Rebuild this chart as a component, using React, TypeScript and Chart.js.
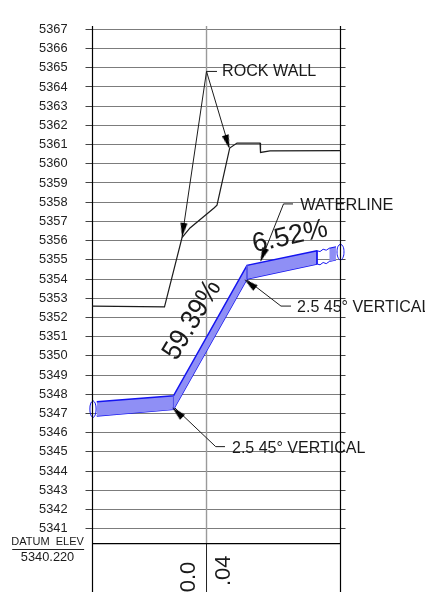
import React, { useEffect, useRef } from "react";
import { Chart, registerables } from "chart.js";

Chart.register(...registerables);

const elevationTicks = [5341,5342,5343,5344,5345,5346,5347,5348,5349,5350,5351,5352,5353,5354,5355,5356,5357,5358,5359,5360,5361,5362,5363,5364,5365,5366,5367];
const datumElevation = 5340.22;
const datumLabel = "5340.220";
const stationLeft = 0;
const stationMid = 18.39;
const stationRight = 40;
const elevFrameTop = 5367.18;
const elevTop = 5368.53;
const elevBottom = 5337.7;

const rockProfile = [[0,5352.59],[11.61,5352.55],[14.44,5356.16],[15.73,5356.66],[19.6,5357.7],[20.08,5357.85],[22.13,5360.82],[23.31,5361.08],[27.02,5361.08],[27.1,5360.59],[28.63,5360.67],[40,5360.69]];
const waterTop = [[0.68,5347.61],[13.06,5347.92],[24.92,5354.71],[36.21,5355.47]];
const waterBottom = [[0.68,5346.86],[13.06,5347.21],[24.92,5354.0],[36.21,5354.78]];
const pipeStubTop = [[38.19,5355.6],[39.27,5355.68]];
const pipeStubBottom = [[38.19,5354.91],[39.27,5354.99]];
const breakTop = [[36.21,5355.47],[36.7,5355.43],[37.2,5355.55],[37.7,5355.5],[38.19,5355.6]];
const breakBottom = [[36.21,5354.78],[36.7,5354.74],[37.2,5354.86],[37.7,5354.8],[38.19,5354.91]];
const endCapLeft = [[0.08,5347.67],[0.43,5347.54],[0.58,5347.23],[0.43,5346.92],[0.08,5346.79],[-0.27,5346.92],[-0.42,5347.23],[-0.27,5347.54],[0.08,5347.67]];
const endCapRight = [[40,5355.83],[40.4,5355.7],[40.56,5355.41],[40.4,5355.12],[40,5354.99],[39.6,5355.12],[39.44,5355.41],[39.6,5355.7],[40,5355.83]];
const bendUpper = [[24.92,5354.71],[24.92,5354.0]];
const bendLower = [[13.06,5347.92],[13.06,5347.21]];
const breakEdgeLeft = [[36.21,5355.47],[36.21,5354.78]];
const leaderRockWall = [[20.08,5364.81],[18.39,5364.81],[14.44,5356.16]];
const leaderRockWall2 = [[18.39,5364.81],[22.02,5360.88]];
const leaderWaterline = [[32.34,5357.91],[30.81,5357.91],[27.18,5354.96]];
const leaderVerticalUpper = [[24.92,5353.95],[30.4,5352.59],[32.02,5352.59]];
const leaderVerticalLower = [[13.31,5347.28],[19.87,5345.27],[21.37,5345.27]];
const arrowTips = [[14.6,5356.55],[21.75,5361.14],[27.5,5355.25],[25.4,5353.75],[13.7,5347.05]];
const arrowAngles = [188,163,202,-52,-46];

const labelRock = "ROCK WALL";
const labelWater = "WATERLINE";
const labelVertical = "2.5 45° VERTICAL";
const labelSlopeUpper = "6.52%";
const labelSlopeLower = "59.39%";
const labelDatum = "DATUM  ELEV";
const labelStationA = "0.0";
const labelStationB = ".04";

const pts = (a: number[][]) => a.map(([x, y]) => ({ x, y }));
const FONT = '"Liberation Sans", Arial, sans-serif';
const BLUE = "#1414f0";
const FILL = "#8f8ff5";

function line(data: number[][], color: string, width: number, extra: any = {}) {
  return { data: pts(data), borderColor: color, borderWidth: width, pointRadius: 0, showLine: true, fill: false, clip: false, tension: 0, ...extra };
}

const textPlugin = {
  id: "cadText",
  afterDatasetsDraw(chart: any) {
    const { ctx, scales } = chart;
    const X = scales.x, Y = scales.y;
    const put = (text: string, sx: number, sy: number, size: number, rot = 0, align: CanvasTextAlign = "left", sxScale = 1) => {
      ctx.save();
      ctx.translate(X.getPixelForValue(sx), Y.getPixelForValue(sy));
      ctx.rotate((rot * Math.PI) / 180);
      ctx.scale(sxScale, 1);
      ctx.font = `${size}px ${FONT}`;
      ctx.fillStyle = "#1a1a1a";
      ctx.textAlign = align;
      ctx.textBaseline = "middle";
      ctx.fillText(text, 0, 0);
      ctx.restore();
    };
    put(labelRock, 20.9, 5364.8, 16.1);
    put(labelWater, 33.5, 5357.82, 16.3);
    put(labelVertical, 33, 5352.5, 16);
    put(labelVertical, 22.5, 5345.18, 16);
    put(labelSlopeUpper, 31.85, 5356.2, 27, -12.5, "center");
    put(labelSlopeLower, 16.1, 5351.86, 28, -59, "center", 0.92);
    put(labelStationA, 15.5, 5339.28, 22, -90, "right");
    put(labelStationB, 21.2, 5339.6, 22, -90, "right");
    put(labelDatum, -7.25, 5340.28, 11, 0, "center");
    put(datumLabel, -7.25, 5339.5, 12.8, 0, "center");
    ctx.save();
    ctx.strokeStyle = "#222";
    ctx.lineWidth = 1;
    ctx.beginPath();
    const uy = Math.round(Y.getPixelForValue(5339.95)) + 0.5;
    ctx.moveTo(X.getPixelForValue(-12.95), uy);
    ctx.lineTo(X.getPixelForValue(-1.35), uy);
    ctx.stroke();
    ctx.restore();
  },
};

export default function App() {
  const ref = useRef<HTMLCanvasElement>(null);
  useEffect(() => {
    const head = document.createElement("canvas");
    head.width = 7;
    head.height = 14;
    const h = head.getContext("2d")!;
    h.fillStyle = "#000";
    h.beginPath();
    h.moveTo(3.5, 0);
    h.lineTo(7, 14);
    h.lineTo(0, 14);
    h.closePath();
    h.fill();

    const ticks = elevationTicks.map((value) => ({ value }));
    const yBase: any = {
      type: "linear",
      min: elevBottom,
      max: elevTop,
      afterBuildTicks: (s: any) => { s.ticks = ticks.map((t) => ({ ...t })); },
      border: { display: false },
    };
    const fitTo = (width: number) => (s: any) => {
      s.width = width;
      s.paddingTop = 0;
      s.paddingBottom = 0;
    };
    const chart = new Chart(ref.current!, {
      type: "scatter",
      data: {
        datasets: [
          { data: pts(arrowTips), pointStyle: head, pointRadius: 6, rotation: arrowAngles, showLine: false, clip: false } as any,
          line(rockProfile, "#1c1c1c", 1.2),
          line(leaderRockWall, "#1c1c1c", 1),
          line(leaderRockWall2, "#1c1c1c", 1),
          line(leaderWaterline, "#1c1c1c", 1),
          line(leaderVerticalUpper, "#1c1c1c", 1),
          line(leaderVerticalLower, "#1c1c1c", 1),
          line([[stationLeft, elevBottom],[stationLeft, elevFrameTop]], "#000", 1.2),
          line([[stationRight, elevBottom],[stationRight, elevFrameTop]], "#000", 1.2),
          line([[stationLeft, datumElevation],[stationRight, datumElevation]], "#000", 1.4),
          line([[stationMid, elevBottom],[stationMid, datumElevation]], "#222", 1),
          line(endCapLeft, BLUE, 1, { tension: 0.4 }),
          line(endCapRight, BLUE, 1, { tension: 0.4 }),
          line(breakTop, BLUE, 1),
          line(breakBottom, BLUE, 1),
          line(breakEdgeLeft, BLUE, 1),
          line(bendUpper, "#5555e8", 1),
          line(bendLower, "#5555e8", 1),
          line(waterTop, BLUE, 1.5, { fill: "+1", backgroundColor: FILL }),
          line(waterBottom, BLUE, 1.5),
          line(pipeStubTop, BLUE, 1.2, { fill: "+1", backgroundColor: FILL }),
          line(pipeStubBottom, BLUE, 1.2),
          line([[stationMid, datumElevation],[stationMid, elevFrameTop]], "#9a9a9a", 1.4),
        ],
      },
      options: {
        animation: false,
        responsive: false,
        devicePixelRatio: 1,
        layout: { padding: 0, autoPadding: false },
        plugins: { legend: { display: false }, tooltip: { enabled: false }, title: { display: false } },
        scales: {
          x: { type: "linear", min: stationLeft, max: stationRight, display: false },
          y: {
            ...yBase,
            position: "left",
            afterFit: fitTo(92.5),
            grid: { color: "#7c7c7c", lineWidth: 1, tickLength: 7, tickColor: "#444", drawOnChartArea: true },
            ticks: { autoSkip: false, padding: 18, color: "#222", font: { family: FONT, size: 12.8 }, callback: (v: any) => String(v) },
          },
          y2: {
            ...yBase,
            position: "right",
            afterFit: fitTo(84.5),
            grid: { drawOnChartArea: false, tickLength: 5, tickColor: "#444", lineWidth: 1 },
            ticks: { autoSkip: false, callback: () => "", padding: 0 },
          },
        },
      } as any,
      plugins: [textPlugin],
    } as any);
    return () => chart.destroy();
  }, []);
  return <canvas ref={ref} width={425} height={592} style={{ position: "absolute", left: 0, top: 0, display: "block" }} />;
}
